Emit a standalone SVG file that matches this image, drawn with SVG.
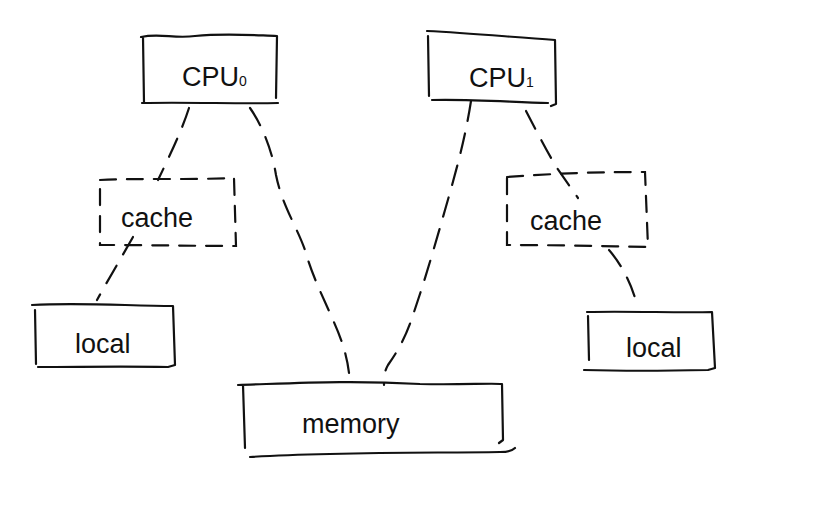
<svg xmlns="http://www.w3.org/2000/svg" width="820" height="528" viewBox="0 0 820 528">
<style>
.box{fill:none;stroke:#111;stroke-width:2.2;stroke-linecap:round;stroke-linejoin:round}
.dbox{fill:none;stroke:#111;stroke-width:2.2;stroke-linecap:round;stroke-dasharray:16 11}
.conn{fill:none;stroke:#111;stroke-width:2.2;stroke-linecap:round;stroke-dasharray:20 13}
text{font-family:"Liberation Sans","DejaVu Sans",sans-serif;fill:#111;font-size:27px}
.sub{font-size:14px}
</style>
<rect width="820" height="528" fill="#fff"/>
<g id="cpu0">
<path class="box" d="M141,37 C160,33 175,39 195,36 C225,33 250,35 277,36 M143,37 L144,103 M277,36 L276,98 M142,103 C190,102 240,104 278,103"/>
<text x="182" y="86">CPU<tspan class="sub">0</tspan></text>
</g>
<g id="cpu1">
<path class="box" d="M427,31 C470,33 510,37 555,40 M428,36 L429,96 M555,40 L556,104 L551,106 M432,100 C470,99 510,102 548,103"/>
<text x="469" y="87">CPU<tspan class="sub">1</tspan></text>
</g>
<g id="cacheL">
<path class="dbox" d="M100,180 C140,178 190,180 234,178 L236,246 C200,246 150,245 100,245 L100,180"/>
<text x="121" y="227">cache</text>
</g>
<g id="cacheR">
<path class="dbox" d="M507,177 C560,173 600,172 645,172 L648,247 C600,246 550,245 507,245 L507,177"/>
<text x="530" y="230">cache</text>
</g>
<g id="localL">
<path class="box" d="M32,305 C80,302 130,306 173,306 L175,365 L168,367 C120,366 80,367 38,367 M35,310 L36,364"/>
<text x="75" y="353">local</text>
</g>
<g id="localR">
<path class="box" d="M587,312 C630,311 680,313 712,312 L715,368 L708,370 C660,371 620,371 584,370 M588,316 L589,360"/>
<text x="626" y="357">local</text>
</g>
<g id="memory">
<path class="box" d="M238,385 C300,383 350,380 420,384 C460,385 490,383 502,384 L503,440 L499,443 M243,385 L245,448 M250,457 C330,452 420,453 500,452 C508,452 513,450 515,448"/>
<text x="302" y="433">memory</text>
</g>
<g id="connectors">
<path class="conn" d="M189,108 C182,130 170,155 158,180"/>
<path class="conn" d="M250,108 C262,125 272,150 276,175 C282,205 296,225 305,250 C312,275 322,295 333,320 C342,340 349,360 350,385"/>
<path class="conn" d="M471,101 C465,140 455,175 445,210 C435,245 425,280 413,315 C405,340 395,355 388,365 C384,372 384,378 384,385"/>
<path class="conn" d="M526,111 C536,130 546,150 557,168 L578,198"/>
<path class="conn" d="M133,237 C120,260 108,280 97,300"/>
<path class="conn" d="M609,250 C622,265 632,285 637,305"/>
</g>
</svg>
